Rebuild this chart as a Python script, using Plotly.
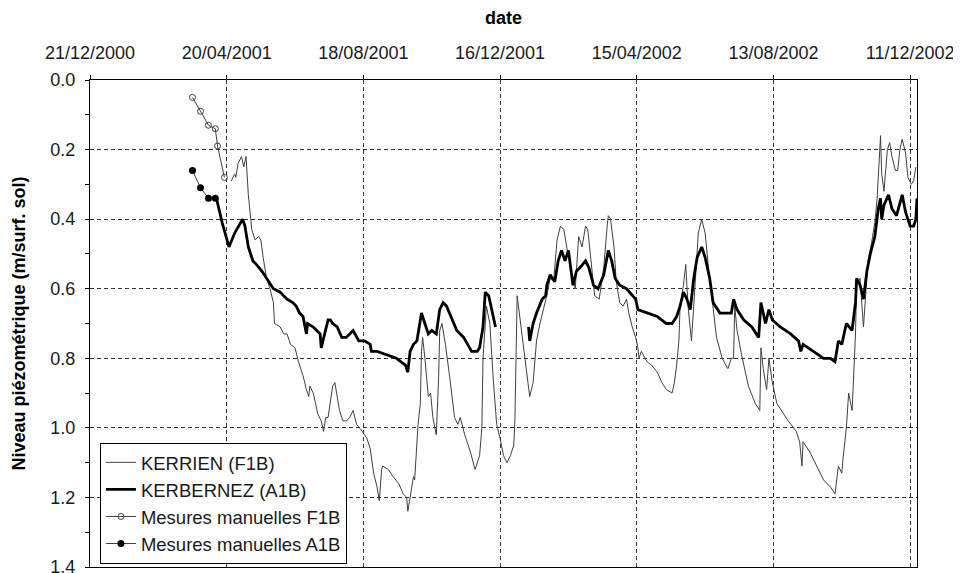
import plotly.graph_objects as go

# ---------------- data ----------------
f1b_dates = [
    "2001-04-24", "2001-04-27", "2001-04-28", "2001-04-30", "2001-05-03", "2001-05-05", "2001-05-07", "2001-05-09",
    "2001-05-12", "2001-05-15", "2001-05-18", "2001-05-20", "2001-05-22", "2001-05-25", "2001-05-28", "2001-05-31",
    "2001-06-01", "2001-06-06", "2001-06-09", "2001-06-12", "2001-06-15", "2001-06-19", "2001-06-22", "2001-06-26",
    "2001-06-29", "2001-07-01", "2001-07-02", "2001-07-05", "2001-07-09", "2001-07-12", "2001-07-14", "2001-07-16",
    "2001-07-18", "2001-07-20", "2001-07-22", "2001-07-24", "2001-07-26", "2001-07-28", "2001-07-31", "2001-08-03",
    "2001-08-06", "2001-08-09", "2001-08-12", "2001-08-17", "2001-08-21", "2001-08-24", "2001-08-27", "2001-08-30",
    "2001-09-01", "2001-09-03", "2001-09-04", "2001-09-09", "2001-09-13", "2001-09-18", "2001-09-22", "2001-09-25",
    "2001-09-26", "2001-09-29", "2001-10-01", "2001-10-02", "2001-10-04", "2001-10-05", "2001-10-07", "2001-10-08",
    "2001-10-09", "2001-10-11", "2001-10-14", "2001-10-16", "2001-10-18", "2001-10-21", "2001-10-23", "2001-10-24",
    "2001-10-26", "2001-10-29", "2001-11-02", "2001-11-06", "2001-11-09", "2001-11-11", "2001-11-15", "2001-11-20",
    "2001-11-24", "2001-11-28", "2001-11-30", "2001-12-01", "2001-12-04", "2001-12-07", "2001-12-10", "2001-12-13",
    "2001-12-16", "2001-12-19", "2001-12-22", "2001-12-25", "2001-12-28", "2001-12-29", "2001-12-31", "2002-01-03",
    "2002-01-07", "2002-01-10", "2002-01-11", "2002-01-14", "2002-01-17", "2002-01-20", "2002-01-23", "2002-01-26",
    "2002-01-29", "2002-02-01", "2002-02-04", "2002-02-07", "2002-02-10", "2002-02-13", "2002-02-14", "2002-02-17",
    "2002-02-20", "2002-02-23", "2002-02-26", "2002-03-01", "2002-03-03", "2002-03-06", "2002-03-09", "2002-03-13",
    "2002-03-17", "2002-03-20", "2002-03-21", "2002-03-23", "2002-03-26", "2002-03-28", "2002-03-31", "2002-04-03",
    "2002-04-06", "2002-04-08", "2002-04-11", "2002-04-14", "2002-04-16", "2002-04-17", "2002-04-19", "2002-04-24",
    "2002-04-28", "2002-05-03", "2002-05-07", "2002-05-11", "2002-05-16", "2002-05-18", "2002-05-20", "2002-05-22",
    "2002-05-23", "2002-05-26", "2002-05-28", "2002-05-30", "2002-06-02", "2002-06-04", "2002-06-06", "2002-06-08",
    "2002-06-11", "2002-06-14", "2002-06-17", "2002-06-20", "2002-06-24", "2002-06-29", "2002-07-02", "2002-07-04",
    "2002-07-07", "2002-07-09", "2002-07-10", "2002-07-12", "2002-07-16", "2002-07-22", "2002-07-28", "2002-08-01",
    "2002-08-02", "2002-08-04", "2002-08-07", "2002-08-09", "2002-08-12", "2002-08-16", "2002-08-22", "2002-08-26",
    "2002-09-02", "2002-09-05", "2002-09-07", "2002-09-08", "2002-09-14", "2002-09-20", "2002-09-26", "2002-10-02",
    "2002-10-06", "2002-10-09", "2002-10-12", "2002-10-13", "2002-10-16", "2002-10-18", "2002-10-21", "2002-10-22",
    "2002-10-24", "2002-10-25", "2002-10-28", "2002-10-31", "2002-11-03", "2002-11-04", "2002-11-07", "2002-11-10",
    "2002-11-12", "2002-11-15", "2002-11-16", "2002-11-18", "2002-11-21", "2002-11-23", "2002-11-25", "2002-11-28",
    "2002-11-30", "2002-12-02", "2002-12-04", "2002-12-07", "2002-12-09", "2002-12-12", "2002-12-14", "2002-12-16",
]
f1b_values = [
    0.29, 0.27, 0.28, 0.24, 0.22, 0.25, 0.22, 0.33,
    0.43, 0.46, 0.45, 0.46, 0.51, 0.57, 0.60, 0.64,
    0.70, 0.71, 0.73, 0.73, 0.76, 0.77, 0.81, 0.85,
    0.89, 0.91, 0.88, 0.90, 0.96, 0.98, 1.01, 0.97,
    0.97, 0.92, 0.88, 0.87, 0.91, 0.95, 0.98, 0.98,
    0.97, 0.95, 0.99, 1.01, 1.03, 1.06, 1.13, 1.17,
    1.21, 1.12, 1.11, 1.12, 1.14, 1.16, 1.19, 1.20,
    1.24, 1.18, 1.14, 1.15, 1.03, 0.99, 0.93, 0.78,
    0.74, 0.80, 0.91, 0.90, 0.97, 1.02, 0.86, 0.72,
    0.70, 0.76, 0.86, 0.97, 0.99, 0.97, 1.02, 1.07,
    1.12, 1.08, 1.00, 0.80, 0.65, 0.70, 0.86, 0.99,
    1.03, 1.08, 1.10, 1.08, 1.05, 0.98, 0.62, 0.70,
    0.81, 0.88, 0.91, 0.87, 0.75, 0.70, 0.66, 0.62,
    0.57, 0.58, 0.46, 0.42, 0.43, 0.49, 0.49, 0.56,
    0.60, 0.45, 0.48, 0.42, 0.43, 0.52, 0.62, 0.63,
    0.54, 0.42, 0.39, 0.40, 0.48, 0.58, 0.64, 0.65,
    0.63, 0.67, 0.71, 0.74, 0.77, 0.80, 0.78, 0.81,
    0.82, 0.84, 0.87, 0.89, 0.90, 0.87, 0.82, 0.75,
    0.65, 0.59, 0.53, 0.65, 0.75, 0.65, 0.54, 0.44,
    0.40, 0.44, 0.54, 0.63, 0.74, 0.80, 0.82, 0.83,
    0.80, 0.80, 0.65, 0.72, 0.79, 0.88, 0.93, 0.95,
    0.77, 0.83, 0.89, 0.80, 0.87, 0.93, 0.96, 0.98,
    1.01, 1.04, 1.11, 1.04, 1.07, 1.11, 1.15, 1.17,
    1.19, 1.11, 1.13, 1.09, 1.00, 0.90, 0.95, 0.88,
    0.73, 0.59, 0.57, 0.71, 0.57, 0.52, 0.47, 0.41,
    0.34, 0.16, 0.27, 0.32, 0.20, 0.18, 0.22, 0.26,
    0.26, 0.20, 0.17, 0.21, 0.28, 0.30, 0.29, 0.25,
]

a1b_dates = [
    "2001-04-11", "2001-04-16", "2001-04-22", "2001-04-27", "2001-05-04", "2001-05-06", "2001-05-09", "2001-05-13",
    "2001-05-16", "2001-05-21", "2001-05-25", "2001-05-31", "2001-06-06", "2001-06-12", "2001-06-17", "2001-06-20",
    "2001-06-23", "2001-06-26", "2001-06-29", "2001-06-30", "2001-07-05", "2001-07-11", "2001-07-12", "2001-07-14",
    "2001-07-18", "2001-07-20", "2001-07-22", "2001-07-26", "2001-07-30", "2001-08-03", "2001-08-06", "2001-08-09",
    "2001-08-14", "2001-08-19", "2001-08-24", "2001-08-25", "2001-08-30", "2001-09-07", "2001-09-16", "2001-09-24",
    "2001-09-26", "2001-09-28", "2001-10-01", "2001-10-04", "2001-10-05", "2001-10-08", "2001-10-11", "2001-10-14",
    "2001-10-17", "2001-10-21", "2001-10-24", "2001-10-27", "2001-10-30", "2001-11-04", "2001-11-08", "2001-11-14",
    "2001-11-21", "2001-11-26", "2001-11-28", "2001-12-01", "2001-12-03", "2001-12-06", "2001-12-09", "2001-12-12",
    "2001-12-26",
    "2002-01-10", "2002-01-11", "2002-01-14", "2002-01-17", "2002-01-22", "2002-01-25", "2002-01-26", "2002-01-29",
    "2002-01-31", "2002-02-02", "2002-02-05", "2002-02-08", "2002-02-11", "2002-02-14", "2002-02-18", "2002-02-21",
    "2002-02-24", "2002-03-01", "2002-03-04", "2002-03-08", "2002-03-12", "2002-03-17", "2002-03-21", "2002-03-24",
    "2002-03-27", "2002-03-31", "2002-04-06", "2002-04-14", "2002-04-16", "2002-04-24", "2002-05-03", "2002-05-11",
    "2002-05-16", "2002-05-20", "2002-05-23", "2002-05-26", "2002-05-29", "2002-06-01", "2002-06-04", "2002-06-07",
    "2002-06-11", "2002-06-14", "2002-06-18", "2002-06-21", "2002-06-27", "2002-07-03", "2002-07-07", "2002-07-09",
    "2002-07-12", "2002-07-18", "2002-07-25", "2002-07-31", "2002-08-02", "2002-08-06", "2002-08-09", "2002-08-12",
    "2002-08-19", "2002-08-28", "2002-09-04", "2002-09-06", "2002-09-08", "2002-09-17", "2002-09-26", "2002-10-02",
    "2002-10-06", "2002-10-08", "2002-10-09", "2002-10-12", "2002-10-16", "2002-10-21", "2002-10-24", "2002-10-25",
    "2002-10-28", "2002-10-31", "2002-11-03", "2002-11-06", "2002-11-10", "2002-11-13", "2002-11-15", "2002-11-16",
    "2002-11-18", "2002-11-22", "2002-11-25", "2002-11-29", "2002-12-04", "2002-12-07", "2002-12-11", "2002-12-14",
    "2002-12-16", "2002-12-17",
]
a1b_values = [
    0.34, 0.41, 0.48, 0.44, 0.40, 0.42, 0.48, 0.52,
    0.53, 0.55, 0.57, 0.60, 0.61, 0.63, 0.64, 0.65,
    0.67, 0.68, 0.73, 0.70, 0.71, 0.73, 0.77, 0.74,
    0.69, 0.69, 0.70, 0.71, 0.74, 0.74, 0.73, 0.72,
    0.75, 0.75, 0.76, 0.78, 0.78, 0.79, 0.80, 0.82,
    0.84, 0.78, 0.76, 0.75, 0.73, 0.67, 0.70, 0.73,
    0.72, 0.73, 0.66, 0.64, 0.65, 0.69, 0.72, 0.74,
    0.78, 0.78, 0.77, 0.71, 0.61, 0.62, 0.67, 0.71,
    None,
    0.71, 0.75, 0.70, 0.67, 0.63, 0.62, 0.59, 0.56,
    0.57, 0.58, 0.52, 0.49, 0.52, 0.49, 0.59, 0.55,
    0.54, 0.52, 0.54, 0.59, 0.60, 0.56, 0.49, 0.52,
    0.57, 0.59, 0.60, 0.63, 0.66, 0.67, 0.68, 0.70,
    0.70, 0.68, 0.65, 0.61, 0.63, 0.66, 0.57, 0.51,
    0.48, 0.51, 0.57, 0.64, 0.67, 0.67, 0.67, 0.63,
    0.66, 0.69, 0.71, 0.74, 0.64, 0.70, 0.66, 0.69,
    0.71, 0.73, 0.75, 0.78, 0.76, 0.78, 0.80, 0.80,
    0.81, 0.77, 0.75, 0.76, 0.70, 0.72, 0.64, 0.57,
    0.59, 0.63, 0.55, 0.50, 0.45, 0.37, 0.34, 0.40,
    0.36, 0.33, 0.37, 0.39, 0.33, 0.38, 0.42, 0.42,
    0.40, 0.34,
]

man_f1b_dates = ["2001-03-21", "2001-03-28", "2001-04-04", "2001-04-10", "2001-04-12", "2001-04-18"]
man_f1b_values = [0.05, 0.09, 0.13, 0.14, 0.19, 0.28]

man_a1b_dates = ["2001-03-21", "2001-03-28", "2001-04-04", "2001-04-10"]
man_a1b_values = [0.26, 0.31, 0.34, 0.34]

x_tick_dates = ["2000-12-21", "2001-04-20", "2001-08-18", "2001-12-16",
                "2002-04-15", "2002-08-13", "2002-12-11"]
x_range = ["2000-12-21", "2002-12-17"]

# ---------------- figure ----------------
FONT = "Arial, 'Liberation Sans', sans-serif"
fig = go.Figure()

fig.add_trace(go.Scatter(
    x=f1b_dates, y=f1b_values, mode="lines", name="KERRIEN (F1B)",
    line=dict(color="#404040", width=1)))
fig.add_trace(go.Scatter(
    x=a1b_dates, y=a1b_values, mode="lines", name="KERBERNEZ (A1B)",
    line=dict(color="black", width=2.8), connectgaps=False))
fig.add_trace(go.Scatter(
    x=man_f1b_dates, y=man_f1b_values, mode="lines+markers", name="Mesures manuelles F1B",
    line=dict(color="#404040", width=1),
    marker=dict(symbol="circle-open", size=6, color="#404040", line=dict(width=1))))
fig.add_trace(go.Scatter(
    x=man_a1b_dates, y=man_a1b_values, mode="lines+markers", name="Mesures manuelles A1B",
    line=dict(color="#404040", width=1),
    marker=dict(symbol="circle", size=7, color="black")))

# the page body has an 8px offset, so margins are expressed relative to it
fig.update_layout(
    width=961, height=573,
    margin=dict(l=82, r=52, t=72, b=14),
    paper_bgcolor="white", plot_bgcolor="white",
    font=dict(family=FONT, size=18, color="#1a1a1a"),
    showlegend=True,
    legend=dict(
        x=0.012, y=0.255, xanchor="left", yanchor="top",
        bgcolor="white", bordercolor="black", borderwidth=1,
        font=dict(family=FONT, size=18.5, color="#1a1a1a"),
        itemwidth=30, tracegroupgap=0,
    ),
)

fig.update_xaxes(
    type="date", side="top", range=x_range,
    tickmode="array", tickvals=x_tick_dates, tickformat="%d/%m/%Y",
    ticks="outside", ticklen=4, tickcolor="black", ticklabelstandoff=9,
    showline=True, linecolor="black", linewidth=1, mirror=True,
    showgrid=True, gridcolor="#333333", gridwidth=1, griddash="4px,3px",
    zeroline=False,
    title=dict(text="<b>date</b>", font=dict(family=FONT, size=18, color="black"), standoff=14),
    automargin=False,
)
fig.update_yaxes(
    range=[1.4, 0], tickmode="linear", tick0=0, dtick=0.2, tickformat=".1f",
    ticks="outside", ticklen=4, tickcolor="black", ticklabelstandoff=6,
    minor=dict(dtick=0.1, tick0=0, ticks="outside", ticklen=4, tickcolor="black", showgrid=False),
    showline=True, linecolor="black", linewidth=1, mirror=True,
    showgrid=True, gridcolor="#333333", gridwidth=1, griddash="4px,3px",
    zeroline=False,
    title=dict(text="<b>Niveau piézométrique (m/surf. sol)</b>",
               font=dict(family=FONT, size=18, color="black"), standoff=20),
    automargin=False,
)

fig.write_html("out.html")
